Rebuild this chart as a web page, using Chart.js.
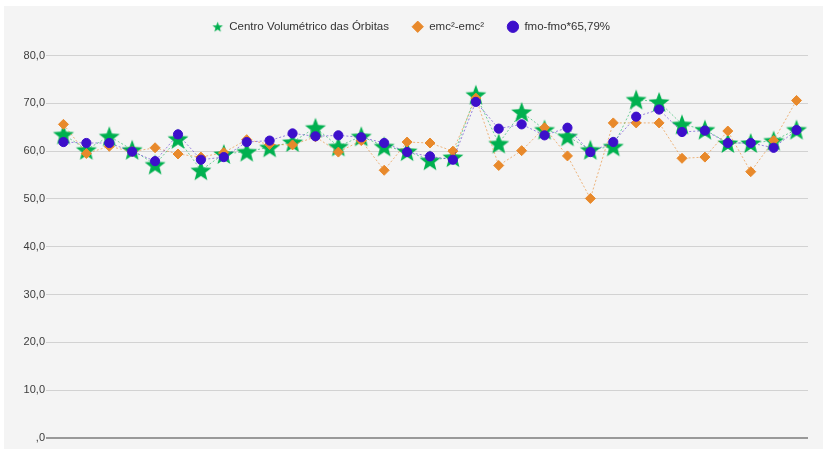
<!DOCTYPE html>
<html lang="pt">
<head>
    <meta charset="UTF-8">
    <title>Centro Volumétrico das Órbitas</title>
    <script src="https://cdn.jsdelivr.net/npm/chart.js"></script>
    <style>
        body {
            margin: 0;
            background: #ffffff;
        }
        .panel {
            position: absolute;
            left: 4px;
            top: 6px;
            width: 819px;
            height: 443px;
            background: #f4f4f4;
        }
    </style>
</head>
<body>
    <div class="panel">
        <canvas id="chart" width="819" height="443"></canvas>
    </div>

    <script>
        // data
        const labels = Array.from({ length: 33 }, (_, i) => String(i + 1));
        const centroValues = [63.5, 60.3, 63.1, 60.3, 57.2, 62.6, 56.0, 59.4, 59.9, 60.8, 61.9,
            64.9, 61.0, 63.1, 61.0, 60.0, 58.1, 58.75, 71.8, 61.6, 68.2, 64.5,
            63.1, 60.3, 61.0, 70.8, 70.3, 65.6, 64.5, 61.7, 61.7, 62.2, 64.5];
        const emcValues = [65.6, 59.5, 61.0, 59.9, 60.7, 59.4, 58.75, 59.7, 62.4, 61.4, 61.3,
            63.0, 59.8, 62.2, 56.0, 61.9, 61.7, 60.0, 71.1, 57.0, 60.1, 64.9,
            59.0, 50.1, 65.9, 65.9, 65.9, 58.5, 58.75, 64.2, 55.7, 62.2, 70.6];
        const fmoValues = [61.9, 61.7, 61.7, 59.9, 57.9, 63.5, 58.2, 58.75, 61.9, 62.2, 63.7,
            63.1, 63.3, 62.9, 61.7, 59.8, 58.9, 58.2, 70.3, 64.7, 65.6, 63.3,
            64.9, 59.8, 61.9, 67.2, 68.7, 64.0, 64.3, 61.7, 61.7, 60.7, 64.4];
        const yTicks = [0, 10, 20, 30, 40, 50, 60, 70, 80];

        // filled star marker
        function makeStar(r, color) {
            const c = document.createElement('canvas');
            const size = Math.ceil(r * 2 + 2);
            c.width = size;
            c.height = size;
            const ctx = c.getContext('2d');
            const cx = size / 2, cy = size / 2 + r * 0.1;
            ctx.beginPath();
            for (let i = 0; i < 10; i++) {
                const rad = i % 2 === 0 ? r : r * 0.42;
                const a = -Math.PI / 2 + i * Math.PI / 5;
                const px = cx + Math.cos(a) * rad;
                const py = cy + Math.sin(a) * rad;
                if (i === 0) ctx.moveTo(px, py); else ctx.lineTo(px, py);
            }
            ctx.closePath();
            ctx.fillStyle = color;
            ctx.fill();
            return c;
        }

        const starBig = makeStar(11, '#00b04f');
        const starSmall = makeStar(5.5, '#00b04f');

        // push chart area down below the legend
        const legendGap = {
            id: 'legendGap',
            beforeInit(chart) {
                const fit = chart.legend.fit;
                chart.legend.fit = function () {
                    fit.call(this);
                    this.height += 13;
                };
            }
        };

        new Chart(document.getElementById('chart'), {
            type: 'line',
            data: {
                labels: labels,
                datasets: [
                    {
                        label: 'Centro Volumétrico das Órbitas',
                        data: centroValues,
                        borderColor: 'rgba(0, 176, 79, 0.55)',
                        backgroundColor: '#00b04f',
                        borderWidth: 1,
                        borderDash: [2, 2],
                        pointStyle: starBig,
                        order: 3
                    },
                    {
                        label: 'emc²-emc²',
                        data: emcValues,
                        borderColor: 'rgba(232, 137, 43, 0.6)',
                        backgroundColor: '#e8892b',
                        pointBorderColor: '#e8892b',
                        borderWidth: 1,
                        borderDash: [2, 2],
                        pointStyle: 'rectRot',
                        pointRadius: 5,
                        order: 2
                    },
                    {
                        label: 'fmo-fmo*65,79%',
                        data: fmoValues,
                        borderColor: 'rgba(61, 15, 203, 0.5)',
                        backgroundColor: '#3d0fcb',
                        pointBorderColor: '#3d0fcb',
                        borderWidth: 1,
                        borderDash: [2, 2],
                        pointStyle: 'circle',
                        pointRadius: 4.6,
                        order: 1
                    }
                ]
            },
            options: {
                responsive: false,
                animation: false,
                layout: {
                    padding: { top: -8, right: 15, bottom: 11, left: 10 }
                },
                plugins: {
                    legend: {
                        position: 'top',
                        labels: {
                            usePointStyle: true,
                            boxHeight: 8,
                            padding: 23,
                            color: '#333',
                            font: { family: 'Liberation Sans', size: 11.5 },
                            sort: (a, b) => a.datasetIndex - b.datasetIndex,
                            generateLabels(chart) {
                                const items = Chart.defaults.plugins.legend.labels.generateLabels(chart);
                                items.forEach(item => {
                                    if (item.datasetIndex === 0) item.pointStyle = starSmall;
                                });
                                return items;
                            }
                        }
                    },
                    tooltip: { enabled: false }
                },
                scales: {
                    x: {
                        display: false,
                        offset: true
                    },
                    y: {
                        min: 0,
                        max: 80,
                        afterFit(scale) { scale.width = 38; },
                        afterBuildTicks(scale) {
                            scale.ticks = yTicks.map(v => ({ value: v }));
                        },
                        border: { display: false },
                        grid: {
                            color: ctx => ctx.tick && ctx.tick.value === 0 ? '#999999' : '#d2d2d2',
                            lineWidth: ctx => ctx.tick && ctx.tick.value === 0 ? 2 : 1,
                            tickLength: 6
                        },
                        ticks: {
                            autoSkip: false,
                            color: '#3c3c3c',
                            padding: 1,
                            font: { family: 'Liberation Sans', size: 11 },
                            callback: v => v === 0 ? ',0' : v.toFixed(1).replace('.', ',')
                        }
                    }
                }
            },
            plugins: [legendGap]
        });
    </script>
</body>
</html>
